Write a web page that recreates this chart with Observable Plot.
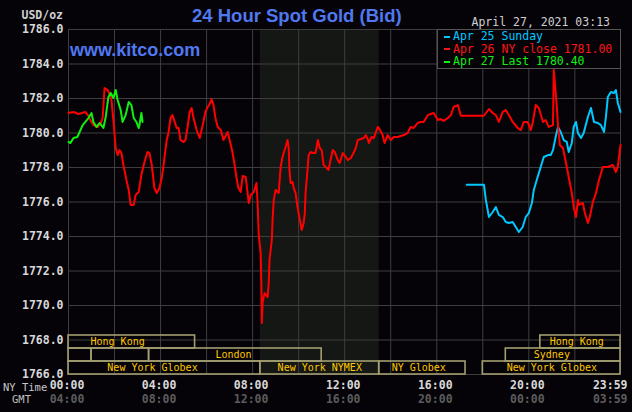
<!DOCTYPE html>
<html><head><meta charset="utf-8">
<script src="https://cdn.jsdelivr.net/npm/d3@7"></script>
<script src="https://cdn.jsdelivr.net/npm/@observablehq/plot@0.6"></script>
<style>
html,body{margin:0;padding:0;background:#050308;}
#wrap{position:relative;width:632px;height:412px;overflow:hidden;background:#050308;}
.layer{position:absolute;left:0;top:0;}
.t{position:absolute;white-space:pre;line-height:1;}
.mono{font-family:"DejaVu Sans Mono",monospace;font-size:11.5px;}
.sans{font-family:"Liberation Sans",Arial,sans-serif;font-weight:bold;color:#5078f0;}
#legend{position:absolute;left:437px;top:29px;width:184px;height:40px;box-sizing:border-box;border:1px solid #555;background:#050308;}
.dash{position:absolute;width:6px;height:2px;}
</style></head><body>
<div id="wrap">
  <div id="main" class="layer"></div>
  <div id="sessions" class="layer"></div>
  <div class="t mono" style="right:569px;top:10px;color:#d0d0d0;font-weight:bold;">USD/oz</div>
  <div class="t sans" style="left:192px;top:7px;font-size:18.5px;">24 Hour Spot Gold (Bid)</div>
  <div class="t sans" style="left:70px;top:41px;font-size:18px;">www.kitco.com</div>
  <div class="t mono" style="right:22px;top:17px;color:#d0d0d0;">April 27, 2021 03:13</div>
  <div id="legend"></div>
  <div class="t mono" style="left:3px;top:381.5px;color:#c8c8c8;font-size:10.5px;">NY Time</div>
  <div class="t mono" style="left:12px;top:394px;color:#c0c0c0;font-size:10.5px;">GMT</div>
</div>
<script>
// ---- data (time = minutes after 00:00 New York time, price = USD/oz) ----
const apr26 = [[0,1781.16],[13,1781.22],[26,1781.10],[44,1781.22],[52,1780.99],[57,1780.75],[65,1780.46],[76,1780.35],[83,1780.52],[89,1780.87],[94,1782.61],[102,1782.49],[107,1782.26],[112,1781.91],[117,1780.75],[123,1779.13],[128,1778.72],[133,1779.01],[138,1778.84],[143,1778.15],[151,1777.28],[157,1776.70],[162,1775.83],[170,1775.83],[175,1776.41],[183,1776.58],[190,1777.57],[198,1778.32],[206,1778.90],[211,1778.84],[217,1778.15],[224,1776.81],[230,1776.52],[237,1776.81],[243,1777.39],[248,1778.15],[256,1779.59],[261,1780.06],[266,1780.87],[271,1781.04],[277,1780.64],[282,1780.29],[287,1780.29],[292,1779.59],[300,1779.48],[305,1779.59],[310,1780.29],[316,1781.22],[321,1781.45],[326,1780.87],[334,1780.17],[342,1779.71],[350,1780.46],[357,1781.22],[363,1781.51],[368,1781.68],[373,1781.97],[378,1781.62],[383,1780.87],[389,1780.35],[397,1780.17],[404,1779.59],[410,1779.83],[415,1780.06],[420,1779.59],[428,1778.84],[433,1778.15],[438,1777.39],[443,1776.81],[449,1776.58],[454,1777.51],[462,1777.45],[470,1775.94],[475,1776.41],[483,1776.58],[490,1777.10],[493,1775.94],[496,1774.09],[501,1773.04],[503,1770.90],[504,1768.99],[506,1770.15],[511,1770.72],[519,1770.49],[522,1771.30],[524,1772.64],[530,1773.80],[532,1774.96],[535,1776.12],[540,1776.70],[548,1776.52],[553,1778.03],[558,1778.61],[561,1778.84],[566,1779.19],[571,1779.59],[574,1779.13],[576,1777.86],[579,1777.10],[584,1777.16],[587,1776.81],[592,1776.52],[597,1775.71],[603,1774.96],[608,1774.38],[613,1774.78],[616,1775.36],[618,1776.52],[623,1777.86],[626,1778.72],[631,1778.90],[637,1778.84],[644,1778.84],[650,1779.59],[655,1779.13],[660,1779.01],[665,1778.15],[673,1777.97],[678,1777.86],[683,1778.43],[689,1779.01],[694,1778.90],[702,1778.43],[707,1778.26],[715,1778.84],[723,1778.61],[728,1778.43],[736,1778.55],[743,1778.84],[749,1779.13],[754,1779.59],[762,1779.65],[770,1779.71],[775,1779.88],[780,1779.65],[783,1779.42],[790,1779.77],[796,1779.71],[806,1780.35],[809,1780.29],[819,1779.88],[824,1779.42],[832,1779.88],[840,1779.59],[848,1779.77],[858,1779.77],[866,1779.83],[874,1779.88],[884,1780.00],[892,1780.35],[900,1780.29],[910,1780.58],[918,1780.64],[926,1780.64],[937,1781.04],[944,1781.10],[952,1781.16],[963,1780.75],[970,1780.81],[978,1780.70],[989,1780.87],[997,1781.04],[1004,1781.51],[1015,1781.62],[1023,1781.00],[1083,1781.00],[1096,1781.39],[1106,1781.16],[1114,1781.04],[1122,1780.64],[1132,1781.22],[1140,1781.33],[1148,1781.04],[1158,1780.64],[1171,1780.29],[1179,1780.17],[1187,1780.64],[1197,1780.64],[1205,1780.17],[1210,1780.58],[1218,1781.62],[1226,1781.45],[1237,1780.64],[1244,1780.75],[1252,1780.35],[1263,1780.46],[1265,1783.65],[1268,1782.90],[1273,1781.51],[1276,1780.46],[1281,1779.30],[1289,1779.13],[1297,1778.26],[1304,1777.45],[1312,1776.52],[1317,1775.71],[1323,1775.13],[1328,1776.12],[1330,1775.83],[1341,1775.94],[1346,1775.36],[1354,1774.78],[1359,1775.13],[1367,1776.00],[1375,1776.52],[1383,1777.28],[1393,1778.03],[1406,1778.03],[1419,1778.15],[1427,1777.74],[1432,1778.03],[1439,1779.30]];

const apr25 = [[1038,1777.00],[1083,1777.00],[1088,1776.12],[1096,1775.13],[1106,1775.42],[1114,1775.71],[1122,1775.25],[1132,1775.13],[1140,1774.84],[1148,1774.78],[1158,1774.84],[1166,1774.55],[1174,1774.26],[1184,1774.55],[1192,1775.13],[1200,1775.36],[1208,1775.94],[1213,1776.70],[1223,1777.45],[1231,1778.03],[1239,1778.61],[1250,1778.72],[1257,1778.72],[1263,1779.01],[1270,1779.77],[1276,1780.35],[1283,1780.06],[1291,1779.59],[1299,1779.48],[1304,1778.90],[1312,1779.42],[1317,1780.35],[1323,1780.64],[1328,1780.00],[1336,1779.71],[1343,1780.00],[1354,1780.93],[1362,1781.45],[1370,1780.64],[1380,1780.58],[1388,1780.46],[1396,1780.06],[1401,1780.93],[1406,1782.09],[1414,1782.38],[1422,1782.32],[1427,1782.49],[1432,1781.74],[1439,1781.22]];

const apr27 = [[0,1779.48],[5,1779.42],[13,1779.71],[23,1779.77],[29,1780.06],[37,1780.46],[44,1780.64],[52,1780.87],[60,1781.16],[65,1780.64],[73,1780.35],[81,1780.58],[89,1780.35],[91,1780.29],[97,1780.93],[104,1782.09],[110,1782.32],[117,1782.03],[123,1782.49],[128,1781.91],[136,1781.33],[141,1780.64],[149,1781.04],[157,1781.80],[164,1781.62],[170,1780.87],[177,1780.64],[183,1780.29],[185,1780.46],[190,1781.16],[193,1780.64]];

const priceTicks = [1766,1768,1770,1772,1774,1776,1778,1780,1782,1784,1786];
const timeTicks = [0,240,480,720,960,1200,1439];
const nyTimeLabels = ["00:00","04:00","08:00","12:00","16:00","20:00","23:59"];
const gmtLabels = ["04:00","08:00","12:00","16:00","20:00","00:00","03:59"];
const gridMinutes = [0,120,240,360,480,600,720,840,960,1080,1200,1320,1439];
const nymexWindow = [{start:500, end:810}];

const sessionRow   = [0,0,1,1,1,1,2,2,2,2];
const sessionStart = [0,1230,0,60,210,1140,0,500,810,1080];
const sessionEnd   = [330,1439,60,210,660,1439,500,810,1035,1439];
const sessionName  = ["Hong Kong","Hong Kong","","","London","Sydney","New York Globex","New York NYMEX","NY Globex","New York Globex"];
const sessionLabelAt = [128,1325,30,135,430,1260,219,655,913,1260];

const legendNames  = ["Apr 25 Sunday","Apr 26 NY close 1781.00","Apr 27 Last 1780.40"];
const legendColors = ["#00c8ff","#ff1414","#10f010"];

// ---- build ----
const toRows = a => a.map(([t,p]) => ({t, p}));
const W = 632, H = 412;
const fontMono = "DejaVu Sans Mono";
const lastTick = timeTicks.length - 1;
const tickRows = timeTicks.map((t, i) => ({t, ny: nyTimeLabels[i], gmt: gmtLabels[i], last: i === lastTick}));
const inner = tickRows.filter(d => !d.last);
const edge = tickRows.filter(d => d.last);
const tickStyle = {fontSize: 11.5, fontWeight: "bold", fontFamily: fontMono, frameAnchor: "bottom", lineAnchor: "middle"};

const main = Plot.plot({
  width: W, height: H,
  marginTop: 29, marginBottom: 38, marginLeft: 68, marginRight: 12,
  x: {domain: [0, 1439], axis: null},
  y: {domain: [1766, 1786], axis: null},
  style: {background: "#050308", color: "#d8d8d8", fontFamily: fontMono, overflow: "visible"},
  marks: [
    Plot.rect(nymexWindow, {x1: "start", x2: "end", fill: "#141714"}),
    Plot.ruleX(gridMinutes, {x: d => d, stroke: "#3e3e3e", strokeWidth: 1}),
    Plot.ruleY(priceTicks, {y: d => d, stroke: "#3e3e3e", strokeWidth: 1}),
    Plot.line(toRows(apr25), {x: "t", y: "p", stroke: legendColors[0], strokeWidth: 2}),
    Plot.line(toRows(apr26), {x: "t", y: "p", stroke: "#ff0000", strokeWidth: 2}),
    Plot.line(toRows(apr27), {x: "t", y: "p", stroke: "#10f010", strokeWidth: 2}),
    Plot.text(priceTicks, {y: d => d, frameAnchor: "left", dx: -5, textAnchor: "end",
      text: d => d.toFixed(1), fontSize: 11.5, fontWeight: "bold", fill: "#d8d8d8", fontFamily: fontMono}),
    Plot.text(inner, {...tickStyle, x: "t", dx: -1.5, dy: 11, text: "ny", fill: "#d8d8d8"}),
    Plot.text(inner, {...tickStyle, x: "t", dx: -1.5, dy: 24.5, text: "gmt", fill: "#5c5c5c"}),
    Plot.text(edge, {...tickStyle, x: "t", textAnchor: "end", dx: 7, dy: 11, text: "ny", fill: "#d8d8d8"}),
    Plot.text(edge, {...tickStyle, x: "t", textAnchor: "end", dx: 7, dy: 24.5, text: "gmt", fill: "#5c5c5c"})
  ]
});
document.getElementById("main").append(main);

const sessions = sessionRow.map((row, i) => ({row, start: sessionStart[i], end: sessionEnd[i], name: sessionName[i], at: sessionLabelAt[i]}));
const sess = Plot.plot({
  width: W, height: H,
  marginTop: 335, marginBottom: 38, marginLeft: 68, marginRight: 12,
  x: {domain: [0, 1439], axis: null},
  y: {type: "band", domain: [0, 1, 2], padding: 0, axis: null},
  style: {background: "transparent", fontFamily: fontMono, overflow: "visible"},
  marks: [
    Plot.barX(sessions, {x1: "start", x2: "end", y: "row", fill: "none", stroke: "#a29e70", strokeWidth: 1.6}),
    Plot.text(sessions.filter(d => d.name), {x: "at", y: "row", text: "name", fill: "#ffc800", fontSize: 10, fontFamily: fontMono})
  ]
});
document.getElementById("sessions").append(sess);

// legend
const leg = document.getElementById("legend");
legendNames.forEach((name, i) => {
  const top = [1.2, 13.8, 26.4][i];
  const dash = document.createElement("div");
  dash.className = "dash";
  dash.style.left = "6px";
  dash.style.top = (top + 4.5) + "px";
  dash.style.background = legendColors[i];
  leg.append(dash);
  const t = document.createElement("div");
  t.className = "t mono";
  t.style.left = "15px";
  t.style.top = top + "px";
  t.style.color = legendColors[i];
  t.textContent = name;
  leg.append(t);
});
</script>
</body></html>
